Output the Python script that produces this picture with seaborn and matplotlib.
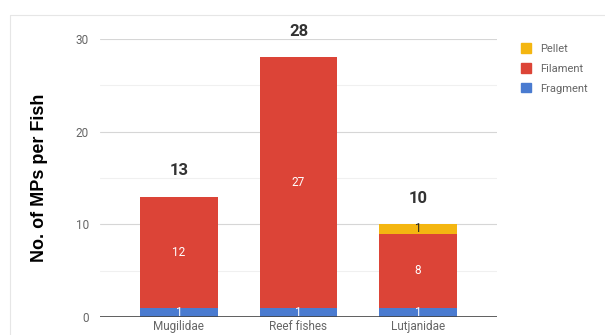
import matplotlib
matplotlib.use("Agg")
import matplotlib.pyplot as plt
import seaborn as sns
import numpy as np
from matplotlib.patches import Rectangle

sns.set_theme(style="white")
plt.rcParams['font.family'] = ['Roboto', 'DejaVu Sans']

categories = ["Mugilidae", "Reef fishes", "Lutjanidae"]
fragment = [1, 1, 1]
filament = [12, 27, 8]
pellet = [0, 0, 1]
totals = [13, 28, 10]
series_names = ["Pellet", "Filament", "Fragment"]
colors = {"Fragment": "#4a7bd0", "Filament": "#dc4437", "Pellet": "#f4b611"}

fig = plt.figure(figsize=(6.05, 3.35), dpi=100)
ax = fig.add_axes([0.1653, 0.0537, 0.656, 0.83])

frag = np.array(fragment)
fil = np.array(filament)
pel = np.array(pellet)

bar_kw = dict(width=0.65, ax=ax, saturation=1, zorder=3, linewidth=0,
              edgecolor="none")
sns.barplot(x=categories, y=fragment, color=colors["Fragment"], **bar_kw)
sns.barplot(x=categories, y=filament, bottom=frag, color=colors["Filament"],
            **bar_kw)
sns.barplot(x=categories, y=pellet, bottom=frag + fil, color=colors["Pellet"],
            **bar_kw)

# segment labels
for i in range(len(categories)):
    ax.text(i, frag[i] / 2, str(frag[i]), ha="center", va="center",
            color="white", fontsize=8.5, zorder=6)
    ax.text(i, frag[i] + fil[i] / 2, str(fil[i]), ha="center", va="center",
            color="white", fontsize=8.5, zorder=6)
    if pel[i] > 0:
        ax.text(i, frag[i] + fil[i] + pel[i] / 2, str(pel[i]), ha="center",
                va="center", color="#222222", fontsize=8.5, zorder=6)
    ax.text(i, totals[i] + 2.8, str(totals[i]), ha="center", va="center",
            color="#333333", fontsize=12, fontweight="bold", clip_on=False)

ax.set_xlim(-0.66, 2.66)
ax.set_ylim(0, 30)
ax.set_yticks([0, 10, 20, 30])
for y in [5, 15, 25]:
    ax.axhline(y, color="#f0f0f0", lw=0.8, zorder=1)
for y in [10, 20, 30]:
    ax.axhline(y, color="#d6d6d6", lw=0.8, zorder=1)
ax.axhline(0, color="#444444", lw=1.2, zorder=5)

for s in ax.spines.values():
    s.set_visible(False)
ax.tick_params(axis="both", length=0, labelsize=8.5, colors="#666666")
ax.tick_params(axis="y", pad=8)
ax.tick_params(axis="x", pad=2)
ax.set_ylabel("No. of MPs per Fish", fontsize=13, fontweight="bold",
              color="black", family=["Liberation Sans", "DejaVu Sans"],
              labelpad=20)

handles = [Rectangle((0, 0), 1, 1, color=colors[n]) for n in series_names]
fig.legend(handles, series_names, loc="upper left",
           bbox_to_anchor=(0.845, 0.9), frameon=False, fontsize=8,
           handlelength=0.9, handleheight=0.9, labelspacing=0.85,
           handletextpad=0.8, labelcolor="#666666")

# faint outer frame
fig.add_artist(plt.Line2D([0.017, 1.0], [0.955, 0.955], color="#e6e6e6",
                          lw=0.8, transform=fig.transFigure))
fig.add_artist(plt.Line2D([0.017, 0.017], [0.0, 0.955], color="#e6e6e6",
                          lw=0.8, transform=fig.transFigure))

fig.savefig("out.png", dpi=100)
